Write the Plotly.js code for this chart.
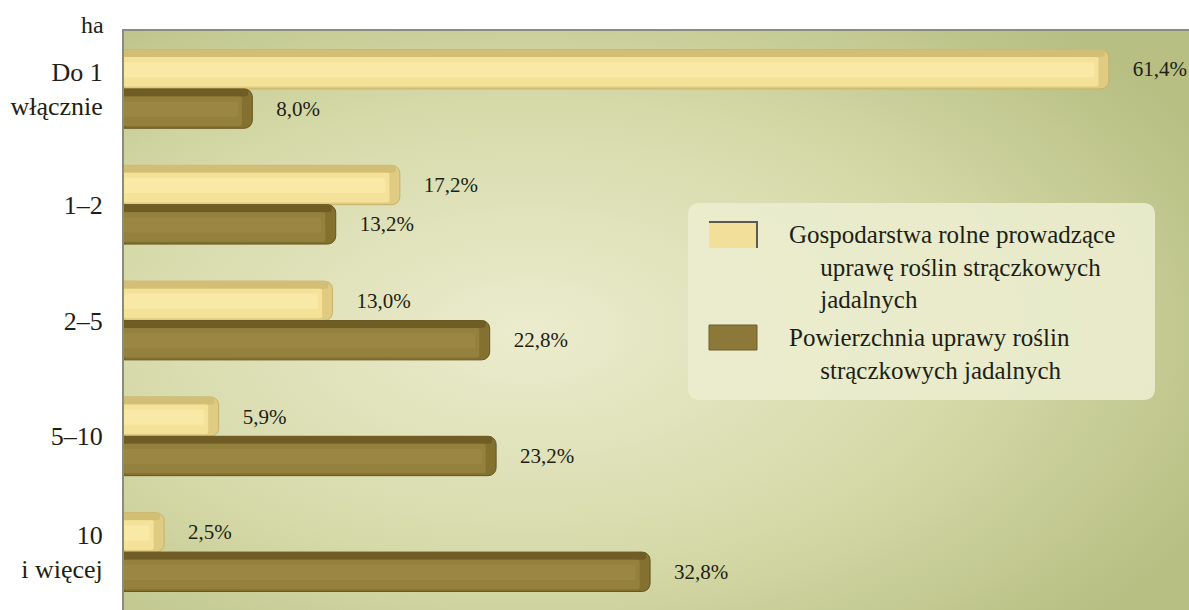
<!DOCTYPE html>
<html>
<head>
<meta charset="utf-8">
<script src="https://cdn.plot.ly/plotly-3.0.1.min.js"></script>
<style>html,body{margin:0;padding:0;background:#fff;font-family:'Liberation Serif';}#chart{width:1189px;height:610px;}</style>
</head>
<body>
<div id="chart"></div>
<script>
// ---- data ----
const categories = ['Do 1<br>włącznie', '1–2', '2–5', '5–10', '10<br>i więcej'];
const farms = [61.4, 17.2, 13.0, 5.9, 2.5];      // Gospodarstwa rolne prowadzące uprawę ...
const area  = [8.0, 13.2, 22.8, 23.2, 32.8];     // Powierzchnia uprawy ...
const seriesNames = ['Gospodarstwa rolne prowadzące uprawę roślin strączkowych jadalnych',
                     'Powierzchnia uprawy roślin strączkowych jadalnych'];
const legendText = [
  'Gospodarstwa rolne prowadzące<br>\u00a0\u00a0\u00a0\u00a0\u00a0uprawę roślin strączkowych<br>\u00a0\u00a0\u00a0\u00a0\u00a0jadalnych',
  'Powierzchnia uprawy roślin<br>\u00a0\u00a0\u00a0\u00a0\u00a0strączkowych jadalnych'
];

// ---- geometry helpers (layout only) ----
const L = 124, T = 31, W = 1189 - L, H = 610 - T;
const px = x => (x - L) / W;
const py = y => (610 - y) / H;
const serif = 'Liberation Serif';

const BW = 0.34;
function barSet(vals, off, cols, name) {
  const common = {type: 'bar', orientation: 'h', y: categories, hoverinfo: 'skip', showlegend: false};
  return [
    Object.assign({}, common, {name: name, x: vals, offset: off, width: BW,
      marker: {color: cols.cap, cornerradius: 8, line: {color: cols.edge, width: 1}},
      text: vals, texttemplate: '\u2003%{x:.1f}%', textposition: 'outside', cliponaxis: false,
      textfont: {family: serif, size: 21, color: '#1e1e14'}}),
    Object.assign({}, common, {x: vals.map(v => Math.max(v - 0.25, 0)), offset: off, width: 0.065,
      marker: {color: cols.top, cornerradius: 3}}),
    Object.assign({}, common, {x: vals.map(v => Math.max(v - 0.65, 0)), offset: off + 0.065, width: BW - 0.085,
      marker: {color: cols.face, cornerradius: 2}}),
    Object.assign({}, common, {x: vals.map(v => Math.max(v - 0.9, 0)), offset: off + 0.11, width: 0.13,
      marker: {color: cols.hi, cornerradius: 2}})
  ];
}

const lightCols = {cap: '#e0cb82', edge: '#c8b26a', top: '#d3be75', face: '#f4e299', hi: '#f8e9a7'};
const darkCols  = {cap: '#85712f', edge: '#66551f', top: '#6f5d25', face: '#95813e', hi: '#9b8643'};

const traces = [].concat(
  barSet(farms, -BW, lightCols, seriesNames[0]),
  barSet(area, 0, darkCols, seriesNames[1])
);

// background gradient
const svg = "<svg xmlns='http://www.w3.org/2000/svg' width='1065' height='579' viewBox='0 0 1065 579' preserveAspectRatio='none'>" +
  "<defs><radialGradient id='g' cx='0.38' cy='0.52' r='0.72' gradientUnits='objectBoundingBox'>" +
  "<stop offset='0' stop-color='#ebecce'/><stop offset='0.55' stop-color='#d6daa9'/><stop offset='1' stop-color='#b7bf83'/>" +
  "</radialGradient></defs><rect width='1065' height='579' fill='url(#g)'/></svg>";
const bgUri = 'data:image/svg+xml;charset=utf-8,' + encodeURIComponent(svg);

// legend box (rounded)
const bx0 = px(688), bx1 = px(1155), by0 = py(400), by1 = py(203);
const rx = 12 / W, ry = 12 / H;
const boxPath = `M ${bx0+rx},${by0} L ${bx1-rx},${by0} Q ${bx1},${by0} ${bx1},${by0+ry} L ${bx1},${by1-ry} Q ${bx1},${by1} ${bx1-rx},${by1} L ${bx0+rx},${by1} Q ${bx0},${by1} ${bx0},${by1-ry} L ${bx0},${by0+ry} Q ${bx0},${by0} ${bx0+rx},${by0} Z`;

const shapes = [
  {type: 'path', xref: 'paper', yref: 'paper', path: boxPath, fillcolor: 'rgba(234,237,206,0.92)', line: {width: 0}, layer: 'above'},
  {type: 'rect', xref: 'paper', yref: 'paper', x0: px(709), x1: px(757), y0: py(248), y1: py(222), fillcolor: '#f2df9a', line: {width: 0}, layer: 'above'},
  {type: 'path', xref: 'paper', yref: 'paper', path: `M ${px(709)},${py(222)} L ${px(757)},${py(222)} L ${px(757)},${py(248)}`, line: {color: '#5a5a50', width: 2}, layer: 'above'},
  {type: 'rect', xref: 'paper', yref: 'paper', x0: px(709), x1: px(757), y0: py(350), y1: py(325), fillcolor: '#8c7838', line: {color: '#6f5f28', width: 1}, layer: 'above'}
];

const annotations = [
  {xref: 'paper', yref: 'paper', x: px(787), y: py(219), xanchor: 'left', yanchor: 'top', align: 'left',
   text: legendText[0], showarrow: false, font: {family: serif, size: 25, color: '#1e1e14'}},
  {xref: 'paper', yref: 'paper', x: px(787), y: py(322), xanchor: 'left', yanchor: 'top', align: 'left',
   text: legendText[1], showarrow: false, font: {family: serif, size: 25, color: '#1e1e14'}},
  {xref: 'paper', yref: 'paper', x: px(106), y: py(25), xanchor: 'right', yanchor: 'middle',
   text: 'ha', showarrow: false, font: {family: serif, size: 24, color: '#1e1e14'}}
];

const layout = {
  width: 1189, height: 610,
  margin: {l: L, r: 0, t: T, b: 0, pad: 0},
  paper_bgcolor: '#ffffff', plot_bgcolor: 'rgba(0,0,0,0)',
  barmode: 'overlay',
  separators: ', ',
  showlegend: false,
  font: {family: serif},
  xaxis: {range: [0, 66.4], side: 'top', showticklabels: false, ticks: '', showgrid: false, zeroline: false,
          showline: true, linecolor: '#8b8b82', linewidth: 2, fixedrange: true},
  yaxis: {type: 'category', autorange: 'reversed', range: [-0.5, 4.5], showgrid: false, zeroline: false,
          showline: true, linecolor: '#8b8b82', linewidth: 2, ticks: '', ticklabelstandoff: 14,
          tickfont: {family: serif, size: 26, color: '#1e1e14'}, fixedrange: true},
  images: [{source: bgUri, xref: 'paper', yref: 'paper', x: 0, y: 1, sizex: 1, sizey: 1,
            sizing: 'stretch', xanchor: 'left', yanchor: 'top', layer: 'below'}],
  shapes: shapes,
  annotations: annotations
};

Plotly.newPlot('chart', traces, layout, {displayModeBar: false, staticPlot: true});
</script>
</body>
</html>
